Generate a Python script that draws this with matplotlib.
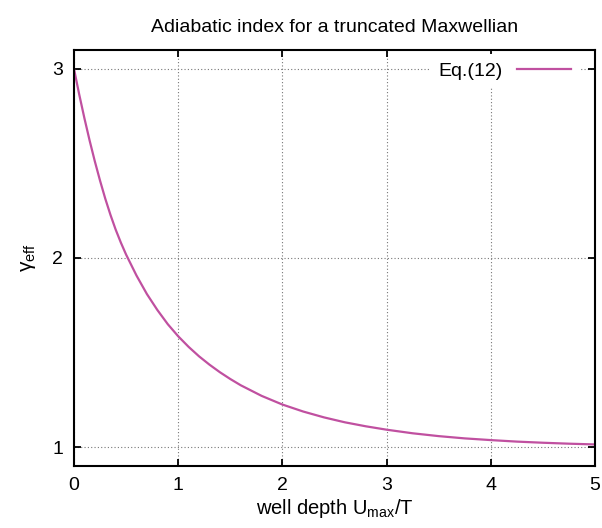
import matplotlib.pyplot as plt

plt.rcParams['font.family'] = ['Liberation Sans', 'DejaVu Sans']

# well depth U_max/T and adiabatic index
depth = [0.0, 0.05, 0.1, 0.15, 0.2, 0.25, 0.3, 0.35, 0.4, 0.45, 0.5,
         0.6, 0.7, 0.8, 0.9, 1.0, 1.1, 1.2, 1.3, 1.4, 1.5, 1.6, 1.8,
         2.0, 2.2, 2.4, 2.6, 2.8, 3.0, 3.25, 3.5, 3.75, 4.0, 4.25, 4.5, 4.75, 5.0]
gamma = [3.0, 2.865, 2.739, 2.621, 2.511, 2.409, 2.314, 2.228, 2.150, 2.081, 2.018,
         1.907, 1.809, 1.725, 1.650, 1.586, 1.530, 1.480, 1.436, 1.396, 1.360, 1.327, 1.271,
         1.225, 1.188, 1.157, 1.131, 1.110, 1.092, 1.073, 1.058, 1.046, 1.037, 1.029, 1.023, 1.018, 1.014]

xticks = [0, 1, 2, 3, 4, 5]
yticks = [1, 2, 3]

fig = plt.figure(figsize=(6.02, 5.28), dpi=100)
ax = fig.add_axes([74 / 602, 1 - 466 / 528, (595 - 74) / 602, (466 - 50) / 528])

ax.plot(depth, gamma, color='#c050a0', lw=1.6, label='Eq.(12)')

ax.set_xlim(0, 5)
ax.set_ylim(0.9, 3.1)
ax.set_xticks(xticks)
ax.set_yticks(yticks)
ax.tick_params(direction='in', length=5, width=1.3, top=True, right=True,
               labelsize=14, pad=8)
for s in ax.spines.values():
    s.set_linewidth(1.5)

ax.grid(True, ls=(0, (1, 2)), color='#777777', lw=0.8)

ax.set_title('Adiabatic index for a truncated Maxwellian', fontsize=14, pad=13)
ax.set_xlabel('well depth U$_{\\mathregular{max}}$/T', fontsize=14.5, labelpad=2)
ax.set_ylabel('γ$_{\\mathregular{eff}}$', fontsize=15, labelpad=10)

leg = ax.legend(loc='upper right', bbox_to_anchor=(0.969, 0.99), markerfirst=False,
                handlelength=2.8, handletextpad=0.72, fontsize=14,
                frameon=True, fancybox=False, borderaxespad=0)
leg.get_frame().set_edgecolor('none')
leg.get_frame().set_facecolor('white')
leg.get_frame().set_alpha(1)

fig.savefig('out.png', dpi=100)
